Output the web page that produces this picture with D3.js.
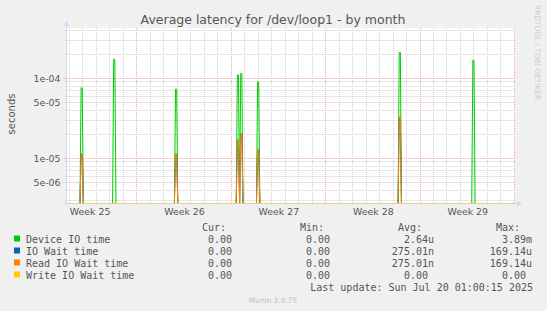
<!DOCTYPE html>
<html><head><meta charset="utf-8">
<script src="https://cdn.jsdelivr.net/npm/d3@7"></script>
<style>html,body{margin:0;padding:0;background:#f0f0f0;}svg{display:block;}</style>
</head><body>
<script>
// ---- data ----
const timeDomain = ["2025-06-16T19:00:00Z", "2025-07-20T01:00:15Z"];
const yDomain = [2.76e-6, 4.25e-4];
const spikeTimes = ["2025-06-17T22:00:00Z","2025-06-20T08:00:00Z","2025-06-24T22:00:00Z","2025-06-29T12:00:00Z",
                    "2025-06-29T18:00:00Z","2025-07-01T00:00:00Z","2025-07-11T12:00:00Z","2025-07-16T23:00:00Z"];
const deviceIO = [7.6e-5, 1.73e-4, 7.3e-5, 1.10e-4, 1.15e-4, 9.0e-5, 2.11e-4, 1.68e-4];
const ioWait   = [1.13e-5, 0, 1.13e-5, 1.69e-5, 2.01e-5, 1.27e-5, 3.25e-5, 0];
const readWait = [1.13e-5, 0, 1.13e-5, 1.69e-5, 2.01e-5, 1.27e-5, 3.25e-5, 0];
const writeWait= [0, 0, 0, 0, 0, 0, 0, 0];
const weekMids = ["2025-06-18T12:00:00Z","2025-06-25T12:00:00Z","2025-07-02T12:00:00Z","2025-07-09T12:00:00Z","2025-07-16T12:00:00Z"];
const weekLabels = ["Week 25","Week 26","Week 27","Week 28","Week 29"];
const yTickValues = [5e-6, 1e-5, 5e-5, 1e-4];
const yTickLabels = ["5e-06","1e-05","5e-05","1e-04"];
const yGridMantissas = [1, 2, 3, 4, 5, 6, 7, 8, 9];
const yGridExponents = [-6, -5, -4];
const seriesNames = ["Device IO time","IO Wait time","Read IO Wait time","Write IO Wait time"];
const seriesColors = ["#00cc00","#0066b3","#ff8000","#ffcc00"];
const curVals = ["0.00","0.00","0.00","0.00"];
const minVals = ["0.00","0.00","0.00","0.00"];
const avgVals = ["2.64u","275.01n","275.01n","0.00 "];
const maxVals = ["3.89m","169.14u","169.14u","0.00 "];
const title = "Average latency for /dev/loop1 - by month";
const lastUpdate = "Last update: Sun Jul 20 01:00:15 2025";

// ---- layout ----
const W = 547, H = 311;
const L = 66.5, R = 515, T = 28, B = 203;
const svg = d3.select("body").append("svg").attr("width", W).attr("height", H);
svg.append("rect").attr("width", W).attr("height", H).attr("fill", "#f0f0f0");
svg.append("rect").attr("x", L).attr("y", T).attr("width", R - L).attr("height", B - T).attr("fill", "#ffffff");

const x = d3.scaleUtc().domain(timeDomain.map(d => new Date(d))).range([L, R]);
const y = d3.scaleLog().domain(yDomain).range([B, T]);
const crisp = v => Math.round(v) + 0.5;

// grid
const grid = svg.append("g");
const days = d3.utcDay.range(x.domain()[0], x.domain()[1]).filter(d => d > x.domain()[0]);
days.forEach(d => {
  const major = d.getUTCDay() === 0;
  grid.append("line").attr("x1", crisp(x(d) - 0.5)).attr("x2", crisp(x(d) - 0.5))
    .attr("y1", T).attr("y2", B)
    .attr("stroke", major ? "#f4a4a4" : "#cfcfcf").attr("stroke-dasharray", "1,1");
});
const yGrid = [];
yGridExponents.forEach(e => yGridMantissas.forEach(m => {
  const v = +(m + "e" + e);
  if (v >= yDomain[0] && v <= yDomain[1]) yGrid.push(v);
}));
yGrid.forEach(v => {
  const major = yTickValues.some(t => Math.abs(t - v) / t < 1e-6);
  grid.append("line").attr("x1", major ? L - 3 : L - 1).attr("x2", R)
    .attr("y1", crisp(y(v) - 0.5)).attr("y2", crisp(y(v) - 0.5))
    .attr("stroke", major ? "#f4a4a4" : "#cfcfcf").attr("stroke-dasharray", "1,1");
});

// y axis labels
const yAxis = d3.axisLeft(y).tickValues(yTickValues).tickSize(0).tickPadding(0)
  .tickFormat((d, i) => yTickLabels[i]);
const gy = svg.append("g").attr("transform", `translate(${L - 6},0)`).call(yAxis);
gy.select(".domain").remove();
gy.selectAll("text").attr("font-family", "DejaVu Sans").attr("font-size", "9.4px").attr("fill", "#555").attr("dy", "0.34em");

// x axis labels
const xAxis = d3.axisBottom(x).tickValues(weekMids.map(d => new Date(d))).tickSize(0).tickPadding(0)
  .tickFormat((d, i) => weekLabels[i]);
const gx = svg.append("g").attr("transform", `translate(0,${B + 5})`).call(xAxis);
gx.select(".domain").remove();
gx.selectAll("text").attr("font-family", "DejaVu Sans").attr("font-size", "9.4px").attr("fill", "#555").attr("dy", "0.75em");

// series
const HOUR = 3600e3;
function seriesPoints(vals) {
  const pts = [[x.domain()[0], 0]];
  spikeTimes.forEach((s, i) => {
    const t = new Date(s).getTime();
    pts.push([new Date(t - 3 * HOUR), 0], [new Date(t - HOUR), vals[i]], [new Date(t + HOUR), vals[i]], [new Date(t + 3 * HOUR), 0]);
  });
  pts.push([x.domain()[1], 0]);
  return pts;
}
svg.append("clipPath").attr("id", "clip").append("rect").attr("x", L).attr("y", T).attr("width", R - L).attr("height", B - T + 1);
const line = d3.line().x(d => x(d[0])).y(d => d[1] > 0 ? y(d[1]) : B + 0.5);
const gs = svg.append("g").attr("clip-path", "url(#clip)");
[deviceIO, ioWait, readWait, writeWait].forEach((vals, i) => {
  gs.append("path").datum(seriesPoints(vals)).attr("d", line).attr("fill", "none")
    .attr("stroke", seriesColors[i]).attr("stroke-width", 1);
});

// axes lines & arrows
const axisColor = "#cfd6f8";
svg.append("line").attr("x1", L).attr("x2", L).attr("y1", B + 2).attr("y2", T - 3).attr("stroke", axisColor);
svg.append("path").attr("d", `M${L - 2.5},${T - 2}L${L},${T - 7}L${L + 2.5},${T - 2}Z`).attr("fill", axisColor);
svg.append("line").attr("x1", L - 3).attr("x2", R + 2).attr("y1", B + 0.5).attr("y2", B + 0.5).attr("stroke", axisColor).attr("stroke-opacity", 0.55);
svg.append("path").attr("d", `M${R + 2},${B - 2}L${R + 7},${B + 0.5}L${R + 2},${B + 3}Z`).attr("fill", axisColor);

// title & side texts
svg.append("text").attr("x", 273).attr("y", 23.5).attr("text-anchor", "middle")
  .attr("font-family", "DejaVu Sans").attr("font-size", "12.5px").attr("fill", "#555").text(title);
svg.append("text").attr("transform", "translate(15,114) rotate(-90)").attr("text-anchor", "middle")
  .attr("font-family", "DejaVu Sans").attr("font-size", "10px").attr("fill", "#555").text("seconds");
svg.append("text").attr("transform", "translate(535,5) rotate(90)").attr("text-anchor", "start")
  .attr("font-family", "DejaVu Sans").attr("font-size", "7.4px").attr("fill", "#cccccc").text("RRDTOOL / TOBI OETIKER");

// legend
const mono = "DejaVu Sans Mono";
const colRight = [238, 336, 434, 532];
const headers = ["Cur:", "Min:", "Avg:", "Max:"];
const lg = svg.append("g").attr("font-family", mono).attr("font-size", "10px").attr("fill", "#555").style("white-space", "pre");
headers.forEach((h, i) => lg.append("text").attr("x", colRight[i] - 12).attr("y", 231).attr("text-anchor", "end").text(h));
seriesNames.forEach((n, i) => {
  const yy = 243 + i * 12;
  lg.append("rect").attr("x", 14).attr("y", yy - 7.5).attr("width", 6).attr("height", 6).attr("fill", seriesColors[i]);
  lg.append("text").attr("x", 26).attr("y", yy).text(n);
  [curVals[i] + " ", minVals[i] + " ", avgVals[i], maxVals[i]].forEach((v, j) => {
    lg.append("text").attr("x", colRight[j]).attr("y", yy).attr("text-anchor", "end").attr("xml:space", "preserve").text(v);
  });
});
lg.append("text").attr("x", 533).attr("y", 291).attr("text-anchor", "end").text(lastUpdate);
svg.append("text").attr("x", 273).attr("y", 303).attr("text-anchor", "middle")
  .attr("font-family", "DejaVu Sans").attr("font-size", "7.4px").attr("fill", "#c0c0c0").text("Munin 2.0.75");
</script>
</body></html>
